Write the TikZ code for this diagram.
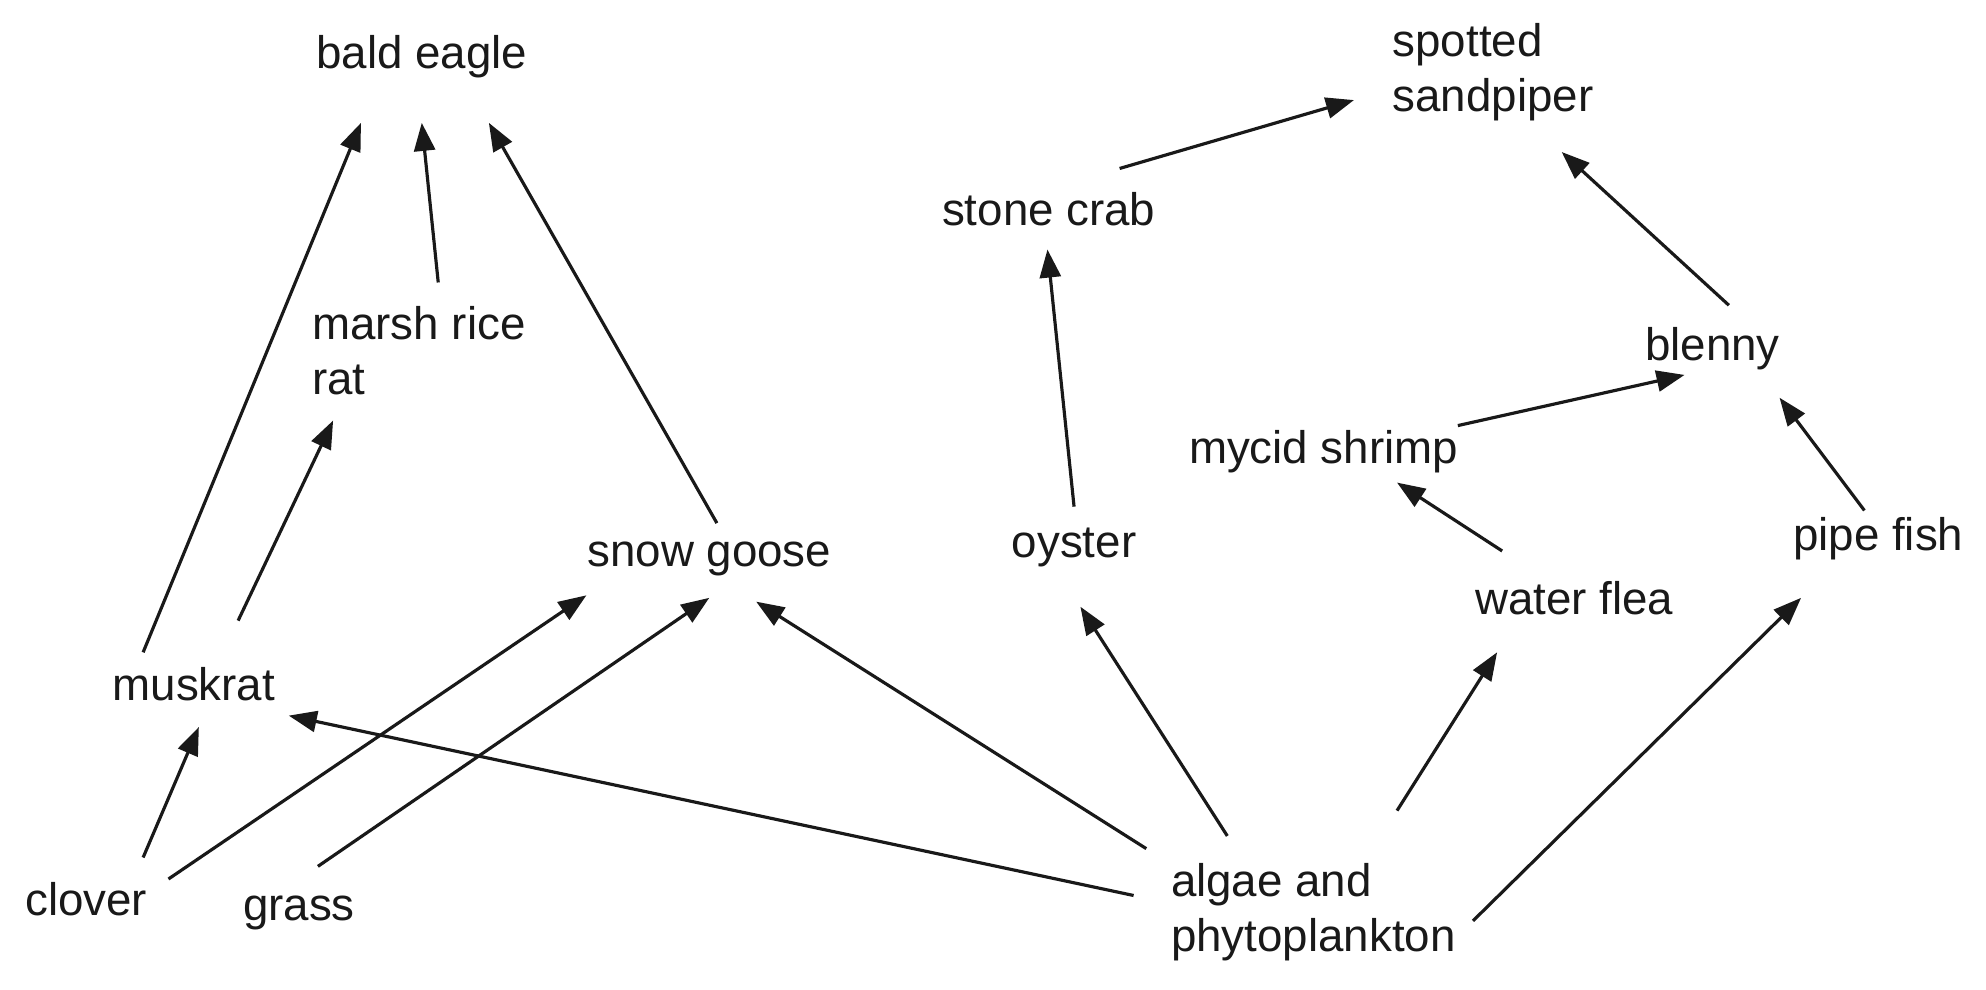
\documentclass[tikz,border=0pt]{standalone}
\usepackage{fontspec}
\setmainfont{Liberation Sans}
\usetikzlibrary{arrows.meta}
\tikzset{
  sp/.style={font=\fontsize{13}{15.5}\selectfont, inner sep=0pt, align=left, text=black!90},
  feeds/.style={-{Triangle[length=0.28cm,width=0.21cm]}, line width=0.9pt, black!90}
}
\begin{document}
\begin{tikzpicture}[x=0.012666cm, y=-0.012666cm]
    \useasboundingbox (0,0) rectangle (1568,781.6);
    % Specie
    \node[sp] (be) at (333,45) {bald eagle};
    \node[sp, anchor=west] (ss) at (1099,57) {spotted\\sandpiper};
    \node[sp] (sc) at (828,165) {stone crab};
    \node[sp, anchor=west] (mr) at (246,277) {marsh rice\\rat};
    \node[sp] (bl) at (1352,275) {blenny};
    \node[sp] (my) at (1045,357) {mycid shrimp};
    \node[sp] (sg) at (560,441) {snow goose};
    \node[sp] (oy) at (848,432) {oyster};
    \node[sp] (pf) at (1483,425) {pipe fish};
    \node[sp] (wf) at (1243,472) {water flea};
    \node[sp] (mu) at (153,540) {muskrat};
    \node[sp] (cl) at (68,710) {clover};
    \node[sp] (gr) at (236,721) {grass};
    \node[sp, anchor=west] (al) at (924,720) {algae and\\phytoplankton};

    % Frecce della catena alimentare
    \draw[feeds] ([shift={(-40,-25)}]mu.center) -- ([shift={(-48,52)}]be.center);
    \draw[feeds] ([shift={(100,-54)}]mr.west) -- ([shift={(0,52)}]be.center);
    \draw[feeds] ([shift={(6,-28)}]sg.center) -- ([shift={(53,52)}]be.center);
    \draw[feeds] ([shift={(35,-50)}]mu.center) -- ([shift={(17,55)}]mr.west);
    \draw[feeds] ([shift={(45,-33)}]cl.center) -- ([shift={(4,34)}]mu.center);
    \draw[feeds] ([shift={(65,-16)}]cl.center) -- ([shift={(-97,29)}]sg.center);
    \draw[feeds] ([shift={(15,-37)}]gr.center) -- ([shift={(0,31)}]sg.center);
    \draw[feeds] ([shift={(-19,-50)}]al.west) -- ([shift={(37,34)}]sg.center);
    \draw[feeds] ([shift={(-29,-13)}]al.west) -- ([shift={(75,25)}]mu.center);
    \draw[feeds] ([shift={(45,-60)}]al.west) -- ([shift={(5,47)}]oy.center);
    \draw[feeds] ([shift={(0,-32)}]oy.center) -- ([shift={(-1,32)}]sc.center);
    \draw[feeds] ([shift={(56,-32)}]sc.center) -- ([shift={(-30,22)}]ss.west);
    \draw[feeds] ([shift={(13,-34)}]bl.center) -- ([shift={(134,63)}]ss.west);
    \draw[feeds] ([shift={(106,-21)}]my.center) -- ([shift={(-22,21)}]bl.center);
    \draw[feeds] ([shift={(-57,-37)}]wf.center) -- ([shift={(58,24)}]my.center);
    \draw[feeds] ([shift={(-11,-22)}]pf.center) -- ([shift={(53,39)}]bl.center);
    \draw[feeds] ([shift={(179,-80)}]al.west) -- ([shift={(-61,43)}]wf.center);
    \draw[feeds] ([shift={(239,7)}]al.west) -- ([shift={(-61,47)}]pf.center);
\end{tikzpicture}
\end{document}
